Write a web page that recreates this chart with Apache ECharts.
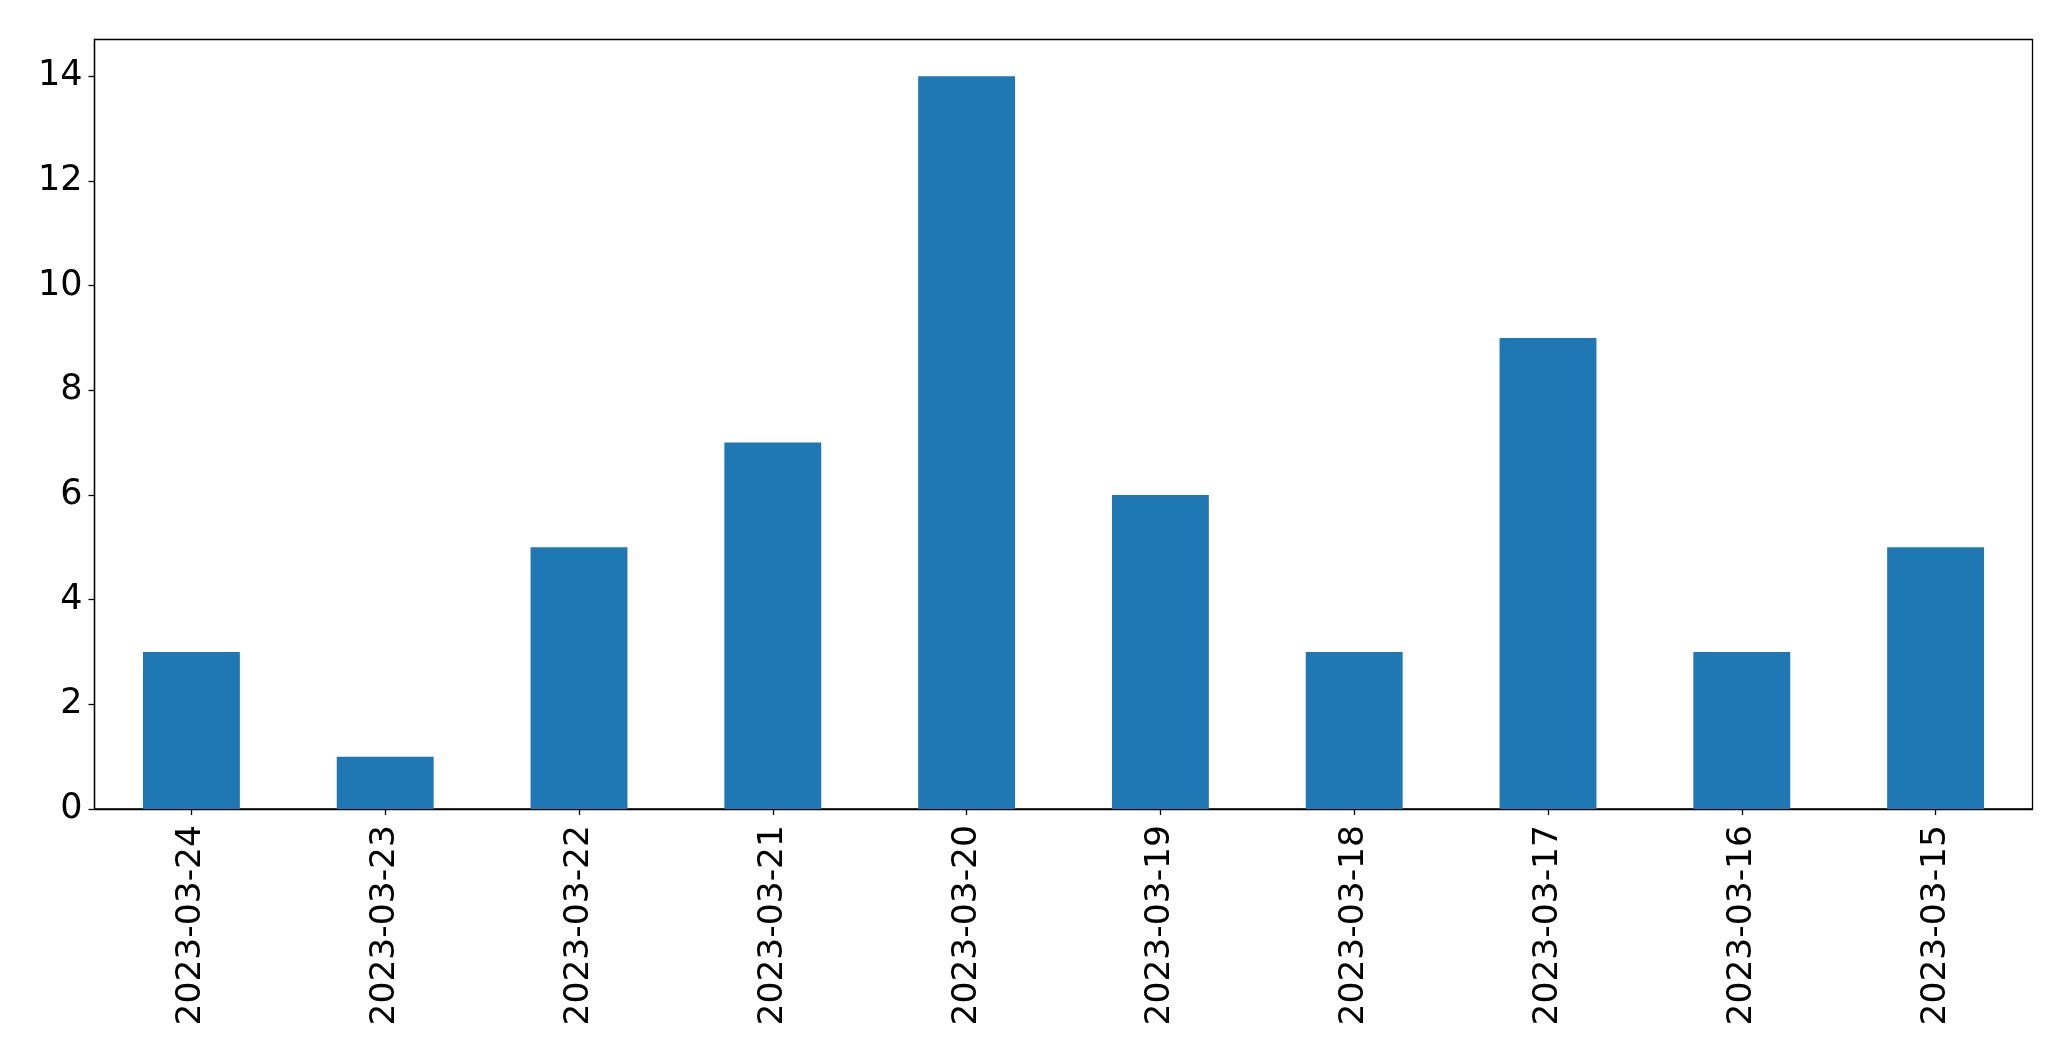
<!DOCTYPE html>
<html>
<head>
<meta charset="utf-8">
<script src="https://cdn.jsdelivr.net/npm/echarts@6/dist/echarts.min.js"></script>
<style>
html,body{margin:0;padding:0;background:#fff;}
#c{width:2071px;height:1061px;}
</style>
</head>
<body>
<div id="c"></div>
<script>
const categories = ['2023-03-24','2023-03-23','2023-03-22','2023-03-21','2023-03-20','2023-03-19','2023-03-18','2023-03-17','2023-03-16','2023-03-15'];
const values = [3,1,5,7,14,6,3,9,3,5];
const yTicks = [0,2,4,6,8,10,12,14];

const chart = echarts.init(document.getElementById('c'), null, {renderer:'canvas'});
chart.setOption({
  animation:false,
  backgroundColor:'#ffffff',
  grid:{left:94.5, right:38.5, top:39.5, bottom:252, containLabel:false, show:true, borderColor:'#000', borderWidth:1.3, backgroundColor:'transparent'},
  xAxis:{
    type:'category', data:categories, boundaryGap:true,
    axisLine:{show:true, lineStyle:{color:'#000', width:1.3}},
    axisTick:{show:true, alignWithLabel:true, length:6, lineStyle:{color:'#000', width:1.3}},
    axisLabel:{rotate:90, margin:16, color:'#000', fontFamily:'DejaVu Sans', fontSize:34.5, interval:0},
    splitLine:{show:false}
  },
  yAxis:{
    type:'value', min:0, max:14.7, interval:2,
    axisLine:{show:true, lineStyle:{color:'#000', width:1.3}},
    axisTick:{show:true, length:6, customValues:yTicks, lineStyle:{color:'#000', width:1.3}},
    axisLabel:{margin:12, color:'#000', fontFamily:'DejaVu Sans', fontSize:35, customValues:yTicks,
      formatter:function(v){return yTicks.indexOf(v)>=0 ? String(v) : '';}},
    splitLine:{show:false}
  },
  series:[{type:'bar', data:values, barWidth:'50%', itemStyle:{color:'#1f77b4'}}]
});
</script>
</body>
</html>
